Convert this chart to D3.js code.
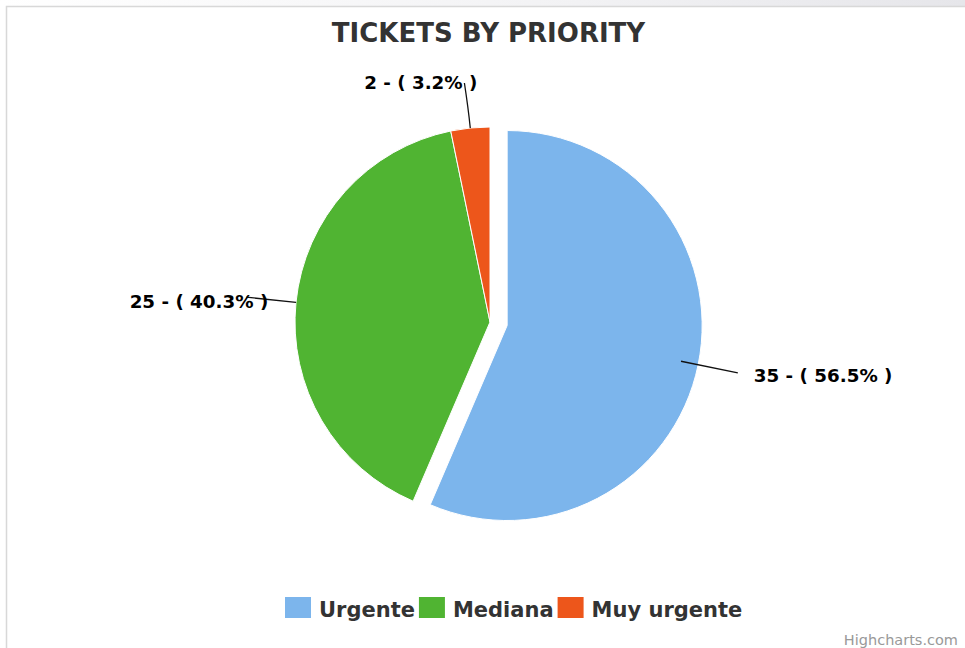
<!DOCTYPE html>
<html>
<head>
<meta charset="utf-8">
<script src="https://cdn.jsdelivr.net/npm/d3@7"></script>
<style>
  html, body { margin: 0; padding: 0; background: #fff; }
  svg { display: block; font-family: "DejaVu Sans", sans-serif; }
</style>
</head>
<body>
<svg id="chart" width="965" height="648"></svg>
<script>
// ---- data ----
const categories = ["Urgente", "Mediana", "Muy urgente"];
const values = [35, 25, 2];
const colors = ["#7cb5ec", "#50b432", "#ed561b"];
const sliced = [true, false, false];
const titleText = "TICKETS BY PRIORITY";
const creditText = "Highcharts.com";

// ---- layout ----
const W = 965, H = 648;
const cx = 490, cy = 322, R = 195;
const slicedOffset = 17.5;
const ctrlRadius = R + 20;
const labelTopLimit = 83;
const labelStyle = {
  "Urgente": { anchor: "start", dx: 16, dy: 9.5, rad: 253 },
  "Mediana": { anchor: "end", dx: 22, dy: 11, rad: 245 },
  "Muy urgente": { anchor: "end", dx: 13, dy: 5.5, rad: 253 }
};

const svg = d3.select("#chart");

// top strip + border
const defs = svg.append("defs");
const grad = defs.append("linearGradient").attr("id", "topg").attr("x1", 0).attr("x2", 1).attr("y1", 0).attr("y2", 0);
grad.append("stop").attr("offset", "0%").attr("stop-color", "#ffffff");
grad.append("stop").attr("offset", "60%").attr("stop-color", "#f2f2f4");
grad.append("stop").attr("offset", "100%").attr("stop-color", "#e6e6ea");
svg.append("rect").attr("x", 0).attr("y", 0).attr("width", W).attr("height", 6).attr("fill", "url(#topg)");
svg.append("rect").attr("x", 6.5).attr("y", 6.5).attr("width", W + 10).attr("height", H + 10)
  .attr("fill", "#fff").attr("stroke", "#d8d8d8").attr("stroke-width", 1.5);

// title
svg.append("text").attr("x", 488.5).attr("y", 41.5).attr("text-anchor", "middle")
  .attr("font-size", 26).attr("font-weight", "bold").attr("fill", "#333333").text(titleText);

// pie
const data = categories.map((c, i) => ({ name: c, value: values[i], color: colors[i], sliced: sliced[i] }));
const total = d3.sum(values);
const pie = d3.pie().value(d => d.value).sort(null).startAngle(0).endAngle(2 * Math.PI);
const arcs = pie(data);
const arc = d3.arc().innerRadius(0).outerRadius(R);

const g = svg.append("g").attr("transform", `translate(${cx},${cy})`);
g.selectAll("path.slice").data(arcs).join("path")
  .attr("class", "slice")
  .attr("d", arc)
  .attr("fill", d => d.data.color)
  .attr("stroke", "#ffffff")
  .attr("stroke-width", 1)
  .attr("stroke-linejoin", "round")
  .attr("transform", d => {
    if (!d.data.sliced) return null;
    const a = (d.startAngle + d.endAngle) / 2;
    return `translate(${slicedOffset * Math.sin(a)},${-slicedOffset * Math.cos(a)})`;
  });

// data labels + connectors
arcs.forEach(d => {
  const st = labelStyle[d.data.name];
  const a = (d.startAngle + d.endAngle) / 2;
  const sx = Math.sin(a), sy = -Math.cos(a);
  const S = [cx + R * sx, cy + R * sy];
  const C = [cx + ctrlRadius * sx, cy + ctrlRadius * sy];
  let E = [cx + st.rad * sx, cy + st.rad * sy];
  if (E[1] < labelTopLimit) E[1] = labelTopLimit;
  const path = d3.path();
  path.moveTo(E[0], E[1]);
  path.quadraticCurveTo(C[0], C[1], S[0], S[1]);
  svg.append("path").attr("d", path.toString()).attr("fill", "none")
    .attr("stroke", "#111").attr("stroke-width", 1.3);
  const pct = (d.data.value / total * 100).toFixed(1);
  svg.append("text")
    .attr("x", E[0] + st.dx)
    .attr("y", E[1] + st.dy)
    .attr("text-anchor", st.anchor)
    .attr("font-size", 18.3).attr("font-weight", "bold").attr("fill", "#000")
    .text(`${d.data.value} - ( ${pct}% )`);
});

// legend
const legend = svg.append("g");
let lx = 285;
const ly = 597;
data.forEach(d => {
  legend.append("rect").attr("x", lx).attr("y", ly).attr("width", 26).attr("height", 21).attr("fill", d.color);
  const t = legend.append("text").attr("x", lx + 34).attr("y", 617)
    .attr("font-size", 21).attr("font-weight", "bold").attr("fill", "#333333").text(d.name);
  const w = t.node().getComputedTextLength();
  lx = lx + 34 + w + 4;
});

// credits
svg.append("text").attr("x", 958).attr("y", 645).attr("text-anchor", "end")
  .attr("font-size", 14.5).attr("fill", "#999999").text(creditText);
</script>
</body>
</html>
